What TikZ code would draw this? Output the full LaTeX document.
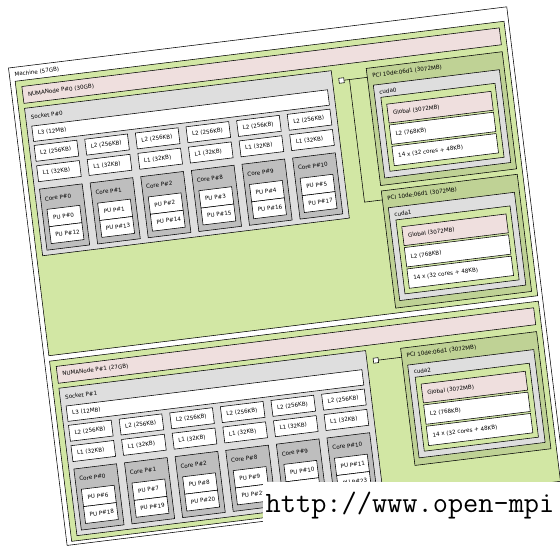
\documentclass[tikz,border=0pt]{standalone}
\usepackage{fontspec}
\newfontfamily\hwff{DejaVu Sans}
\newcommand\hwfont{\hwff\fontsize{5.6pt}{6pt}\selectfont}
\definecolor{epoxy}{HTML}{D2E7A4}
\definecolor{darkepoxy}{HTML}{BFD295}
\definecolor{memcol}{HTML}{EFDFDE}
\definecolor{sockcol}{HTML}{DEDEDE}
\definecolor{corecol}{HTML}{BEBEBE}
\tikzset{
  hw/.style={draw=black, line width=0.55pt, anchor=north west, inner sep=0pt, outer sep=0pt, rectangle},
  lbl/.style={anchor=west, inner sep=0pt, font=\hwfont, text=black},
  conn/.style={draw=black, line width=0.55pt},
}
\newcommand\hwbox[6]{\node[hw, fill=#1, minimum width=#4pt, minimum height=#5pt] (#6) at (#2,#3) {};}
\newcommand\hwlbl[4]{\node[lbl] (#4) at (#1,#2) {#3};}
\newcommand\gpu[2]{%
  \hwbox{darkepoxy}{355}{#1}{137}{118}{pci#2}
  \hwlbl{360}{#1+8}{PCI 10de:06d1 (3072MB)}{tpci#2}
  \hwbox{sockcol}{360}{#1+17.5}{127}{93.5}{cuda#2}
  \hwlbl{365}{#1+25}{cuda#2}{tcuda#2}
  \hwbox{epoxy}{366}{#1+30.5}{115}{74.5}{cop#2}
  \hwbox{memcol}{371}{#1+38}{105}{19}{glob#2}
  \hwlbl{376}{#1+47.5}{Global (3072MB)}{tglob#2}
  \hwbox{white}{371}{#1+59}{105}{19.5}{gl2#2}
  \hwlbl{376}{#1+68.75}{L2 (768KB)}{tgl2#2}
  \hwbox{white}{371}{#1+80.5}{105}{19.5}{sm#2}
  \hwlbl{376}{#1+90.25}{14 x (32 cores + 48KB)}{tsm#2}
}
\begin{document}
\begin{tikzpicture}[x=1pt,y=-1pt]
\useasboundingbox (0,0) rectangle (560,546);
\fill[white] (0,0) rectangle (560,546);
\begin{scope}[shift={(8.5,68)}, rotate=7, transform shape]
  \hwbox{white}{0}{0}{502}{481}{machine}
  \hwlbl{5}{7.5}{Machine (57GB)}{tmachine}
  \foreach \g/\T/\H/\mem in {0/14/276.5/30GB, 1/296/181.5/27GB} {
    \hwbox{epoxy}{5}{\T}{492.5}{\H}{numa\g}
    \hwbox{memcol}{11}{\T+6}{481}{17}{mem\g}
    \hwlbl{16}{\T+14.5}{NUMANode P\#\g\ (\mem)}{tmem\g}
    \hwbox{sockcol}{11}{\T+28}{309}{148.5}{sock\g}
    \hwlbl{16}{\T+37.5}{Socket P\#\g}{tsock\g}
    \hwbox{white}{16}{\T+46.5}{298}{15.5}{lthree\g}
    \hwlbl{21}{\T+54.25}{L3 (12MB)}{tlthree\g}
    \foreach \i/\c in {0/0,1/1,2/2,3/8,4/9,5/10} {
      \pgfmathsetmacro\cx{16+51*\i}
      \pgfmathtruncatemacro\pa{6*\g+\i}
      \pgfmathtruncatemacro\pb{12+6*\g+\i}
      \hwbox{white}{\cx}{\T+66}{43}{16}{ltwo\g-\i}
      \hwlbl{\cx+5}{\T+74}{L2 (256KB)}{tltwo\g-\i}
      \hwbox{white}{\cx}{\T+86.5}{43}{16}{lone\g-\i}
      \hwlbl{\cx+5}{\T+94.5}{L1 (32KB)}{tlone\g-\i}
      \hwbox{corecol}{\cx}{\T+110}{43}{61.5}{core\g-\i}
      \hwlbl{\cx+4}{\T+120.5}{Core P\#\c}{tcore\g-\i}
      \hwbox{white}{\cx+5}{\T+131}{33}{17.5}{pua\g-\i}
      \hwlbl{\cx+10}{\T+139.75}{PU P\#\pa}{tpua\g-\i}
      \hwbox{white}{\cx+5}{\T+148.5}{33}{17}{pub\g-\i}
      \hwlbl{\cx+10}{\T+157}{PU P\#\pb}{tpub\g-\i}
    }
    \node[hw, anchor=center, fill=white, minimum size=5pt] (bridge\g) at (329,\T+39) {};
  }
  \gpu{44}{0}
  \gpu{167.5}{1}
  \gpu{326}{2}
  \coordinate (busa) at (337,53);
  \coordinate (busb) at (337,176.5);
  \coordinate (pcizin) at (355,53);
  \coordinate (pcioin) at (355,176.5);
  \coordinate (pcitin) at (355,335);
  \draw[conn] (bridge0.east) -- (pcizin);
  \draw[conn] (busa) -- (busb) -- (pcioin);
  \draw[conn] (bridge1.east) -- (pcitin);
\end{scope}
\fill[white] (263,481.7) rectangle (560,546);
\node[anchor=base west, inner sep=0pt, font=\ttfamily\fontsize{29.5pt}{30pt}\selectfont] (url) at (265.5,512.5) {http://www.open-mpi};
\end{tikzpicture}
\end{document}
